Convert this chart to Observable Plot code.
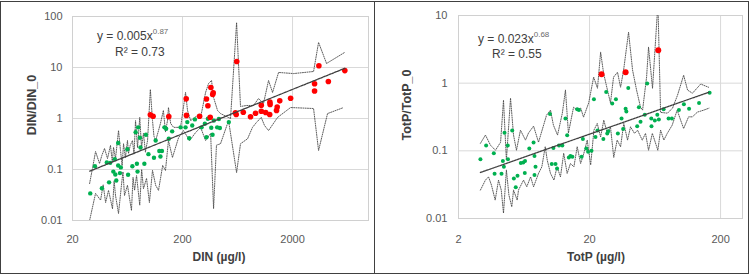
<!DOCTYPE html>
<html>
<head>
<meta charset="utf-8">
<script src="https://cdn.jsdelivr.net/npm/d3@7"></script>
<script src="https://cdn.jsdelivr.net/npm/@observablehq/plot@0.6"></script>
<style>
  body { margin: 0; background: #fff; font-family: "Liberation Sans", Arial, sans-serif; }
  #wrap { position: relative; width: 749px; height: 276px; overflow: hidden; background: #fff; }
  .host { position: absolute; top: 0; }
  .panel { position: absolute; top: 1px; height: 273px; box-sizing: border-box; border: 1px solid #404040; pointer-events: none; }
  .eq { position: absolute; font-size: 12px; line-height: 12px; color: #404040; white-space: nowrap; }
  .eq sup { font-size: 8px; line-height: 0; position: relative; top: -1px; color: #6a6a6a; }
  .xt { position: absolute; font-size: 12px; font-weight: bold; color: #404040; white-space: nowrap; transform: translate(-50%, -50%); }
  .yt { position: absolute; font-size: 12.5px; font-weight: bold; color: #404040; white-space: nowrap; transform: translate(-50%, -50%) rotate(-90deg); }
</style>
</head>
<body>
<div id="wrap">
  <div id="din" class="host" style="left:0"></div>
  <div id="totp" class="host" style="left:374px"></div>
  <div class="panel" style="left:0;width:375px"></div>
  <div class="panel" style="left:374px;width:375px"></div>

  <div class="yt" style="left:32px;top:105px">DIN/DIN_0</div>
  <div class="xt" style="left:219px;top:257px">DIN (µg/l)</div>
  <div class="eq" style="left:97px;top:30px">y = 0.005x<sup>0.87</sup></div>
  <div class="eq" style="left:115px;top:46px">R² = 0.73</div>

  <div class="yt" style="left:407px;top:105px">TotP/TotP_0</div>
  <div class="xt" style="left:596px;top:257px">TotP (µg/l)</div>
  <div class="eq" style="left:478px;top:33px">y = 0.023x<sup>0.68</sup></div>
  <div class="eq" style="left:492px;top:48px">R² = 0.55</div>
</div>
<script>
// ---- DIN panel: [concentration µg/l, ratio] ----
const dinGreen = [
  [29,0.034],[32,0.116],[37,0.043],[41,0.137],[43,0.056],[44,0.135],[47,0.091],[48.5,0.16],
  [49,0.08],[50,0.061],[52,0.33],[52,0.12],[54,0.085],[55,0.11],[63,0.25],[64,0.079],
  [70,0.116],[75,0.54],[77,0.13],[78,0.091],[79,0.67],[82,0.42],[83,0.27],[90,0.13],
  [93,0.48],[98,0.2],[110,0.17],[114,0.37],[123,0.23],[126,0.18],[130,0.23],[137,0.67],
  [142,0.63],[150,0.4],[161,0.56],[192,0.67],[213,0.67],[221,0.85],[230,0.41],[245,0.73],
  [259,0.96],[298,0.67],[319,0.79],[330,0.43],[340,0.99],[365,0.66],[375,0.48],[385,0.91],
  [413,0.67],[428,0.98],[437,0.65],[527,0.85]
];
const dinRed = [
  [102,1.18],[108,1.11],[150,1.09],[216,2.43],[217,1.15],[286,1.11],[330,2.41],[340,1.78],
  [357,1.06],[362,4.05],[380,3.2],[376,2.95],[622,13.1],[605,1.3],[615,1.2],[713,1.33],
  [830,1.08],[922,1.27],[1040,1.82],[1040,1.39],[1140,1.31],[1240,1.2],[1245,2.09],[1250,1.88],
  [1430,1.44],[1450,1.68],[1530,2.22],[1920,2.5],[3170,3.46],[3170,4.79],[3470,10.8],[4230,5.3],
  [5970,8.7]
];
const dinUpper = [
  [28.6,0.053],[30.5,0.11],[32.4,0.225],[35.2,0.131],[37,0.19],[39.1,0.258],[41.6,0.164],[44.3,0.296],
  [46,0.14],[47.2,0.27],[49.2,0.164],[52.4,0.58],[54.6,0.236],[56.5,0.12],[58.2,0.32],[60.5,0.17],
  [63.2,0.37],[64.6,0.206],[67,0.3],[70.2,0.37],[72.5,0.2],[74.8,0.91],[78,0.27],[81.7,1.05],
  [84.8,0.27],[88.3,0.51],[92,0.22],[96.2,0.37],[102,3.7],[106.7,0.91],[110,0.45],[114,0.37],
  [121,0.58],[126,0.8],[134,1.44],[140,0.55],[146,0.91],[149,1.64],[156,0.8],[166,0.67],
  [192,0.67],[213,3.24],[222,1.44],[237,0.91],[274,1.15],[292,1.05],[324,3.24],[345,4.86],
  [367,5.56],[383,2.58],[416,1.44],[443,1.25],[546,1.0],[620,76],[673,1.72],[764,1.8],
  [884,1.8],[982,2.47],[1089,1.97],[1210,5.56],[1316,3.24],[1492,8],[2042,7.6],[3104,8.35],
  [3447,31],[4074,12],[5940,19.7]
];
const dinLower = [
  [28.6,0.01],[32.4,0.034],[36,0.025],[38,0.05],[40,0.0225],[42.5,0.039],[46.2,0.017],[47.8,0.06],
  [49.2,0.031],[52.4,0.0137],[55.7,0.049],[57.5,0.09],[59.4,0.031],[63.2,0.049],[68.7,0.0157],[71,0.07],
  [73.3,0.039],[76.4,0.076],[81.7,0.02],[85,0.1],[88.3,0.042],[94.2,0.067],[100,0.0225],[106.7,0.096],
  [114,0.049],[121,0.039],[132,0.12],[140,0.096],[149,0.37],[162,0.172],[184,0.42],[204,0.58],
  [232,0.37],[263,0.53],[292,0.67],[324,0.37],[360,0.51],[383,0.0172],[407,0.3],[443,0.32],
  [524,0.91],[620,0.087],[673,0.32],[780,0.4],[865,0.67],[941,0.84],[1038,1.05],[1112,0.73],
  [1210,0.58],[1462,1.05],[1918,1.64],[3104,1.57],[3447,0.236],[4160,1.25],[5820,1.64]
];
const dinFit = [0.005, 0.87];          // y = a·x^b
const dinFitRange = [28.7, 5970];
const dinXTicks = [20, 200, 2000];
const dinYTicks = [0.01, 0.1, 1, 10, 100];

// ---- TotP panel ----
const totpGreen = [
  [2.94,0.075],[3.25,0.12],[3.72,0.092],[3.77,0.046],[4.26,0.046],[4.36,0.071],[4.44,0.058],[4.49,0.185],
  [4.75,0.12],[4.77,0.075],[5.14,0.2],[5.29,0.039],[5.47,0.029],[5.64,0.043],[5.98,0.066],[6.24,0.067],
  [6.44,0.071],[6.41,0.047],[6.94,0.108],[7.48,0.133],[7.6,0.084],[7.6,0.044],[7.74,0.058],[9.98,0.35],
  [10.3,0.064],[10.6,0.11],[11,0.064],[11.3,0.055],[11.7,0.12],[12.4,0.12],[13.1,0.3],[13.5,0.17],
  [13.9,0.08],[14.3,0.084],[14.8,0.082],[16.1,0.41],[16.6,0.4],[17.4,0.082],[17.8,0.15],[18.9,0.108],
  [19.5,0.097],[20.7,0.1],[21.6,0.58],[22.2,0.16],[23,0.2],[25.5,0.15],[26.8,0.74],[27.3,0.18],
  [27.8,0.195],[29.8,0.5],[31.8,0.58],[32.9,0.18],[35.1,0.3],[36.1,0.21],[37.7,0.42],[38.2,0.38],
  [39.5,0.85],[46.2,0.23],[47.6,0.44],[49,0.27],[52.8,0.34],[55.1,0.99],[59.2,0.3],[59.4,0.23],
  [63,0.28],[65.8,0.34],[67.6,0.29],[73.5,0.41],[80.2,0.3],[85,0.3],[96.2,0.4],[105,0.49],
  [115,0.42],[137,0.51],[165,0.72]
];
const totpRed = [[24.7,1.36],[37.7,1.45],[66.9,3.07]];
const totpUpper = [
  [2.94,0.129],[3.21,0.171],[3.51,0.121],[3.83,0.102],[4.19,0.134],[4.41,0.56],[4.64,0.073],[4.99,0.6],
  [5.26,0.171],[5.54,0.102],[5.94,0.202],[6.49,0.144],[6.84,0.183],[7.48,0.232],[8.16,0.134],[9.4,0.337],
  [10.07,0.4],[10.6,0.24],[11.4,0.171],[12.4,0.36],[13.1,0.79],[13.8,0.183],[15.1,0.44],[16.2,0.4],
  [17.1,0.43],[18,0.315],[19.7,0.51],[21.5,1.23],[23,0.84],[24.3,2.87],[25.6,1.4],[27.4,0.79],
  [28.9,0.51],[30.5,1.23],[32.7,1.45],[34.5,0.87],[36.4,1.56],[39.7,5.67],[42.6,1.56],[45.7,0.79],
  [49,0.44],[50.8,0.4],[54.5,1.23],[56.4,3.4],[60.5,0.84],[66.5,15],[69.7,0.37],[78.7,0.36],
  [86.1,0.43],[94,0.67],[104.5,1.31],[112,0.79],[122,0.71],[141,0.97],[162,0.87]
];
const totpLower = [
  [2.94,0.0263],[3.21,0.0369],[3.39,0.0413],[3.57,0.0311],[3.81,0.0187],[4.04,0.0369],[4.24,0.0263],[4.41,0.012],
  [4.64,0.052],[4.85,0.0222],[5.1,0.0149],[5.26,0.0263],[5.61,0.0187],[5.74,0.0263],[6.27,0.0369],[6.64,0.0294],
  [7.1,0.0413],[7.48,0.0294],[8.16,0.0464],[8.65,0.058],[9.18,0.115],[9.51,0.073],[10.07,0.0464],[10.7,0.0369],
  [11.3,0.058],[12,0.0413],[12.7,0.092],[13.5,0.0464],[14.3,0.065],[15.2,0.058],[16.1,0.115],[17.1,0.065],
  [18.1,0.092],[19.2,0.144],[20.4,0.062],[21.6,0.202],[22.9,0.254],[24.3,0.161],[25.7,0.284],[27.3,0.181],
  [28.9,0.226],[30.6,0.08],[32.5,0.144],[34.5,0.115],[36.5,0.254],[39,0.144],[41.1,0.226],[44.1,0.181],
  [46.5,0.202],[50.5,0.144],[53.5,0.181],[56.4,0.102],[60.3,0.181],[62.7,0.144],[66.4,0.102],[69.7,0.202],
  [73.8,0.144],[78.4,0.181],[85.5,0.24],[93.3,0.4],[99.1,0.284],[104.5,0.214],[114,0.318],[122,0.318],
  [133,0.373],[149,0.4],[163,0.427]
];
const totpFit = [0.023, 0.68];
const totpFitRange = [2.94, 165];
const totpXTicks = [2, 20, 200];
const totpYTicks = [0.01, 0.1, 1, 10];

const X = d => d[0], Y = d => d[1];

function scatterPanel(o) {
  const [a, b] = o.fit;
  const trend = o.fitRange.map(x => [x, a * Math.pow(x, b)]);
  const dotted = {x: X, y: Y, stroke: "#4a4a4a", strokeWidth: 0.9, strokeDasharray: "1,1.3", clip: true};
  return Plot.plot({
    width: o.width, height: 276,
    marginTop: o.mt, marginBottom: o.mb, marginLeft: o.ml, marginRight: o.mr,
    style: {background: "transparent", fontFamily: "'Liberation Sans', Arial, sans-serif", fontSize: "11px", color: "#595959"},
    x: {type: "log", domain: o.xDomain, ticks: o.xTicks, tickFormat: d => String(d), tickSize: 0, tickPadding: o.xPad, label: null},
    y: {type: "log", domain: o.yDomain, ticks: o.yTicks, tickFormat: d => String(d), tickSize: 0, tickPadding: o.yPad, label: null},
    marks: [
      Plot.gridX(o.xTicks, {stroke: "#d9d9d9", strokeOpacity: 1}),
      Plot.gridY(o.yTicks, {stroke: "#d9d9d9", strokeOpacity: 1}),
      Plot.frame({stroke: "#d0d0d0"}),
      Plot.line(o.upper, dotted),
      Plot.line(o.lower, dotted),
      Plot.dot(o.green, {x: X, y: Y, r: o.rg, fill: "#00b050"}),
      Plot.dot(o.red, {x: X, y: Y, r: o.rr, fill: "#ff0000"}),
      Plot.line(trend, {x: X, y: Y, stroke: "#404040", strokeWidth: 1.3, strokeDasharray: "2,1"})
    ]
  });
}

document.getElementById("din").append(scatterPanel({
  width: 374, ml: 72, mr: 6, mt: 16, mb: 56, xPad: 15, yPad: 10,
  xDomain: [20, 9800], yDomain: [0.01, 100], xTicks: dinXTicks, yTicks: dinYTicks,
  green: dinGreen, red: dinRed, upper: dinUpper, lower: dinLower,
  fit: dinFit, fitRange: dinFitRange, rg: 2.2, rr: 2.8
}));

document.getElementById("totp").append(scatterPanel({
  width: 375, ml: 84, mr: 7, mt: 15, mb: 58, xPad: 17, yPad: 11,
  xDomain: [2, 294], yDomain: [0.01, 10], xTicks: totpXTicks, yTicks: totpYTicks,
  green: totpGreen, red: totpRed, upper: totpUpper, lower: totpLower,
  fit: totpFit, fitRange: totpFitRange, rg: 2, rr: 3
}));
</script>
</body>
</html>
